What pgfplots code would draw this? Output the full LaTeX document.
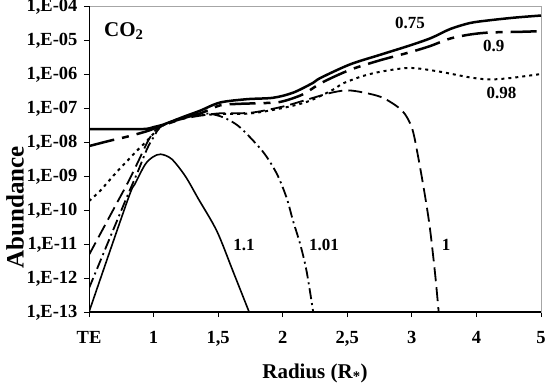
\documentclass[border=0pt]{standalone}
\usepackage{pgfplots}
\pgfplotsset{compat=1.18}
\usepackage{fontspec}
\setmainfont{Liberation Serif}
\usetikzlibrary{calc}
\begin{document}
\begin{tikzpicture}
\begin{axis}[
  name=ax,
  scale only axis,
  width=452pt, height=306pt,
  ymode=log,
  xmin=0, xmax=7,
  ymin=1e-13, ymax=1e-4,
  xtick={0,1,2,3,4,5,6,7},
  xticklabels={TE,1,{1,5},2,{2,5},3,4,5},
  ytick={1e-13,1e-12,1e-11,1e-10,1e-9,1e-8,1e-7,1e-6,1e-5,1e-4},
  yticklabels={{1,E-13},{1,E-12},{1,E-11},{1,E-10},{1,E-09},{1,E-08},{1,E-07},{1,E-06},{1,E-05},{1,E-04}},
  yminorticks=false,
  tick align=outside,
  tick pos=left,
  major tick length=5pt,
  tick style={black, line width=0.9pt},
  axis line style={draw=gray!70, line width=0.8pt},
  tick label style={font=\fontsize{18.5}{22}\selectfont\bfseries},
  yticklabel style={xshift=-3pt, yshift=-1pt},
  xticklabel style={yshift=-11pt},
  every axis plot/.append style={black, smooth, tension=0.5},
]
% 0.75
\addplot[line width=2.5pt] coordinates {
(0,2.40e-8) (0.82,2.40e-8) (1.0,2.75e-8) (1.13,3.16e-8) (1.3,4.17e-8) (1.49,5.75e-8)
(1.72,8.32e-8) (2.03,1.45e-7) (2.45,1.82e-7) (2.85,2.0e-7) (3.16,2.82e-7) (3.47,5.50e-7)
(3.58,7.59e-7) (4.04,1.91e-6) (4.5,3.63e-6) (4.97,6.92e-6) (5.3,1.15e-5) (5.59,2.09e-5)
(5.9,3.16e-5) (6.2,3.80e-5) (6.6,4.57e-5) (7,5.25e-5)};
% 0.9
\addplot[line width=2.5pt, dash pattern=on 26pt off 8pt on 7pt off 8pt] coordinates {
(0,7.59e-9) (0.33,1.10e-8) (0.6,1.45e-8) (0.9,2.09e-8) (1.13,3.02e-8) (1.5,5.25e-8)
(1.75,7.24e-8) (2.03,1.20e-7) (2.3,1.32e-7) (2.6,1.38e-7) (2.96,1.51e-7) (3.31,2.51e-7)
(3.6,5.50e-7) (4.04,1.32e-6) (4.5,2.51e-6) (4.97,4.37e-6) (5.28,6.61e-6) (5.59,1.10e-5)
(5.9,1.45e-5) (6.2,1.66e-5) (6.67,1.74e-5) (7,1.82e-5)};
% 0.98
\addplot[line width=2pt, dash pattern=on 3pt off 4pt] coordinates {
(0,1.82e-10) (0.17,3.63e-10) (0.3,6.92e-10) (0.45,1.45e-9) (0.6,2.88e-9) (0.74,5.50e-9)
(0.9,1.10e-8) (1.05,2.19e-8) (1.2,3.47e-8) (1.5,5.50e-8) (2.0,6.61e-8) (2.5,6.92e-8)
(3.0,1.0e-7) (3.4,1.58e-7) (3.78,3.47e-7) (3.93,5.25e-7) (4.24,8.71e-7) (4.55,1.20e-6)
(4.97,1.51e-6) (5.4,1.20e-6) (5.9,7.94e-7) (6.2,6.92e-7) (6.52,7.59e-7) (7,1.0e-6)};
% 1
\addplot[line width=1.8pt, dash pattern=on 14pt off 6pt] coordinates {
(0,4.79e-12) (0.43,1.58e-10) (0.6,6.31e-10) (0.75,2.40e-9) (0.9,9.55e-9) (1.0,1.91e-8)
(1.13,3.02e-8) (1.5,5.01e-8) (2.0,6.92e-8) (2.5,7.24e-8) (3.0,1.10e-7) (3.4,1.82e-7)
(3.73,2.75e-7) (3.99,3.31e-7) (4.24,2.88e-7) (4.55,2.0e-7) (4.85,8.32e-8) (5.0,2.63e-8)
(5.09,4.37e-9) (5.2,2.88e-10) (5.28,2.88e-11) (5.36,1.32e-12) (5.42,8e-14)};
% 1.01
\addplot[line width=1.8pt, dash pattern=on 11pt off 4pt on 2pt off 4pt] coordinates {
(0,5.01e-13) (0.56,1.82e-10) (0.75,1.26e-9) (0.9,6.31e-9) (1.0,1.38e-8) (1.13,3.02e-8)
(1.5,5.50e-8) (1.8,6.92e-8) (2.03,5.75e-8) (2.23,3.80e-8) (2.39,2.19e-8) (2.7,5.01e-9)
(2.91,1.15e-9) (3.06,2.29e-10) (3.16,4.79e-11) (3.27,1.0e-11) (3.37,1.58e-12) (3.48,8e-14)};
% 1.1
\addplot[line width=1.6pt] coordinates {
(0,1e-13) (0.6,2.0e-10) (0.71,5.75e-10) (0.87,2.19e-9) (0.99,3.63e-9) (1.11,4.37e-9)
(1.28,3.16e-9) (1.49,1e-9) (1.69,2.19e-10) (1.98,2.40e-11) (2.23,1.58e-12) (2.5,8e-14)};

\draw[black, line width=1.3pt] (rel axis cs:0,1) -- (rel axis cs:0,0) -- (rel axis cs:1,0);

\node[font=\fontsize{21}{25}\selectfont\bfseries] at (axis cs:0.54,1.8e-5) {CO\textsubscript{2}};
\node[font=\fontsize{17}{20}\selectfont\bfseries] at (axis cs:4.97,3.2e-5) {0.75};
\node[font=\fontsize{17}{20}\selectfont\bfseries] at (axis cs:6.27,6.6e-6) {0.9};
\node[font=\fontsize{17}{20}\selectfont\bfseries] at (axis cs:6.39,2.75e-7) {0.98};
\node[font=\fontsize{17}{20}\selectfont\bfseries] at (axis cs:2.40,9.3e-12) {1.1};
\node[font=\fontsize{17}{20}\selectfont\bfseries] at (axis cs:3.64,9.3e-12) {1.01};
\node[font=\fontsize{17}{20}\selectfont\bfseries] at (axis cs:5.53,9.3e-12) {1};
\end{axis}
\node[rotate=90, font=\fontsize{25}{30}\selectfont\bfseries] at ($(ax.south west)!0.342!(ax.north west)+(-74pt,0)$) {Abundance};
\node[font=\fontsize{21}{25}\selectfont\bfseries] at ($(ax.south west)!0.5!(ax.south east)+(0,-61pt)$) {Radius (R\textsubscript{*})};
\pgfresetboundingbox
\path[use as bounding box] ([xshift=-89pt,yshift=-74pt]ax.south west) rectangle ([xshift=5pt,yshift=6pt]ax.north east);
\end{tikzpicture}
\end{document}
